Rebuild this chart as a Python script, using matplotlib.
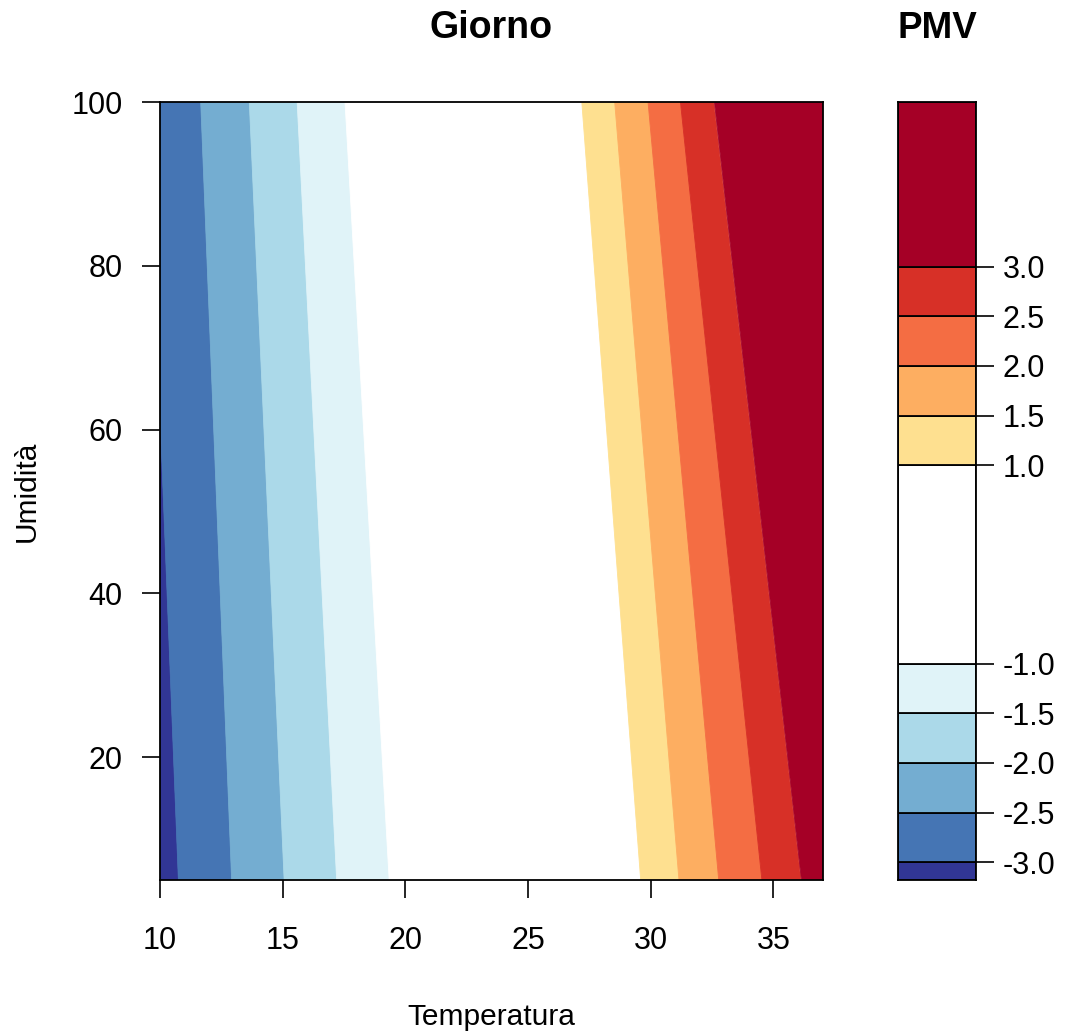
import numpy as np
import matplotlib
matplotlib.use("Agg")
from matplotlib import pyplot as plt

# PMV levels and where each contour boundary crosses the bottom (U=5) and top (U=100) edges
levels = [-3.0, -2.5, -2.0, -1.5, -1.0, 1.0, 1.5, 2.0, 2.5, 3.0]
temp_at_u5 = [10.75, 12.92, 15.06, 17.20, 19.34, 29.59, 31.15, 32.77, 34.53, 36.12]
temp_at_u100 = [9.50, 11.66, 13.64, 15.59, 17.54, 27.19, 28.53, 29.89, 31.21, 32.57]
pmv_min, pmv_max = -3.18, 4.66
temp_lim = (10, 37)
umid_lim = (5, 100)

band_colors = ["#313695", "#4575b4", "#74add1", "#abd9e9", "#e0f3f8", "#ffffff",
               "#fee090", "#fdae61", "#f46d43", "#d73027", "#a50026"]

plt.rcParams["font.family"] = ["Liberation Sans", "DejaVu Sans"]

W, H = 1072, 1032
fig = plt.figure(figsize=(W / 100, H / 100), dpi=100)
ax = fig.add_axes([160 / W, 1 - 880 / H, 662.5 / W, 778 / H])
cax = fig.add_axes([898 / W, 1 - 880 / H, 78 / W, 778 / H])

# main panel: fill each band between consecutive contour boundaries
left_b = [temp_lim[0] - 1] + temp_at_u5
left_t = [temp_lim[0] - 1] + temp_at_u100
right_b = temp_at_u5 + [temp_lim[1] + 1]
right_t = temp_at_u100 + [temp_lim[1] + 1]
for i, c in enumerate(band_colors):
    xs = [left_b[i], right_b[i], right_t[i], left_t[i]]
    ys = [umid_lim[0], umid_lim[0], umid_lim[1], umid_lim[1]]
    ax.fill(xs, ys, color=c, edgecolor=c, linewidth=0.6)

ax.set_xlim(*temp_lim)
ax.set_ylim(*umid_lim)
ax.set_xticks([10, 15, 20, 25, 30, 35])
ax.set_yticks([20, 40, 60, 80, 100])
ax.tick_params(axis="both", direction="out", length=13, width=1.2, labelsize=22)
ax.tick_params(axis="x", pad=20)
ax.tick_params(axis="y", pad=14)
for s in ax.spines.values():
    s.set_linewidth(1.3)
ax.set_xlabel("Temperatura", fontsize=21.5, labelpad=34)
ax.set_ylabel("Umidità", fontsize=21.5, labelpad=22)

# colour key
bounds = [pmv_min] + levels + [pmv_max]
for i, c in enumerate(band_colors):
    cax.bar(0.5, bounds[i + 1] - bounds[i], bottom=bounds[i], width=1.0,
            color=c, edgecolor="black", linewidth=1.3)
cax.set_xlim(0, 1)
cax.set_ylim(pmv_min, pmv_max)
cax.set_xticks([])
cax.yaxis.tick_right()
cax.set_yticks(levels)
cax.set_yticklabels([f"{v:.1f}" for v in levels])
cax.tick_params(axis="y", direction="out", length=13, width=1.2, labelsize=22, pad=6)
for s in cax.spines.values():
    s.set_linewidth(1.3)

fig.text(491 / W, 1 - 38 / H, "Giorno", ha="center", va="baseline",
         fontsize=27, fontweight="bold")
fig.text(937 / W, 1 - 38 / H, "PMV", ha="center", va="baseline",
         fontsize=26.5, fontweight="bold")

fig.savefig("out.png", dpi=100)
